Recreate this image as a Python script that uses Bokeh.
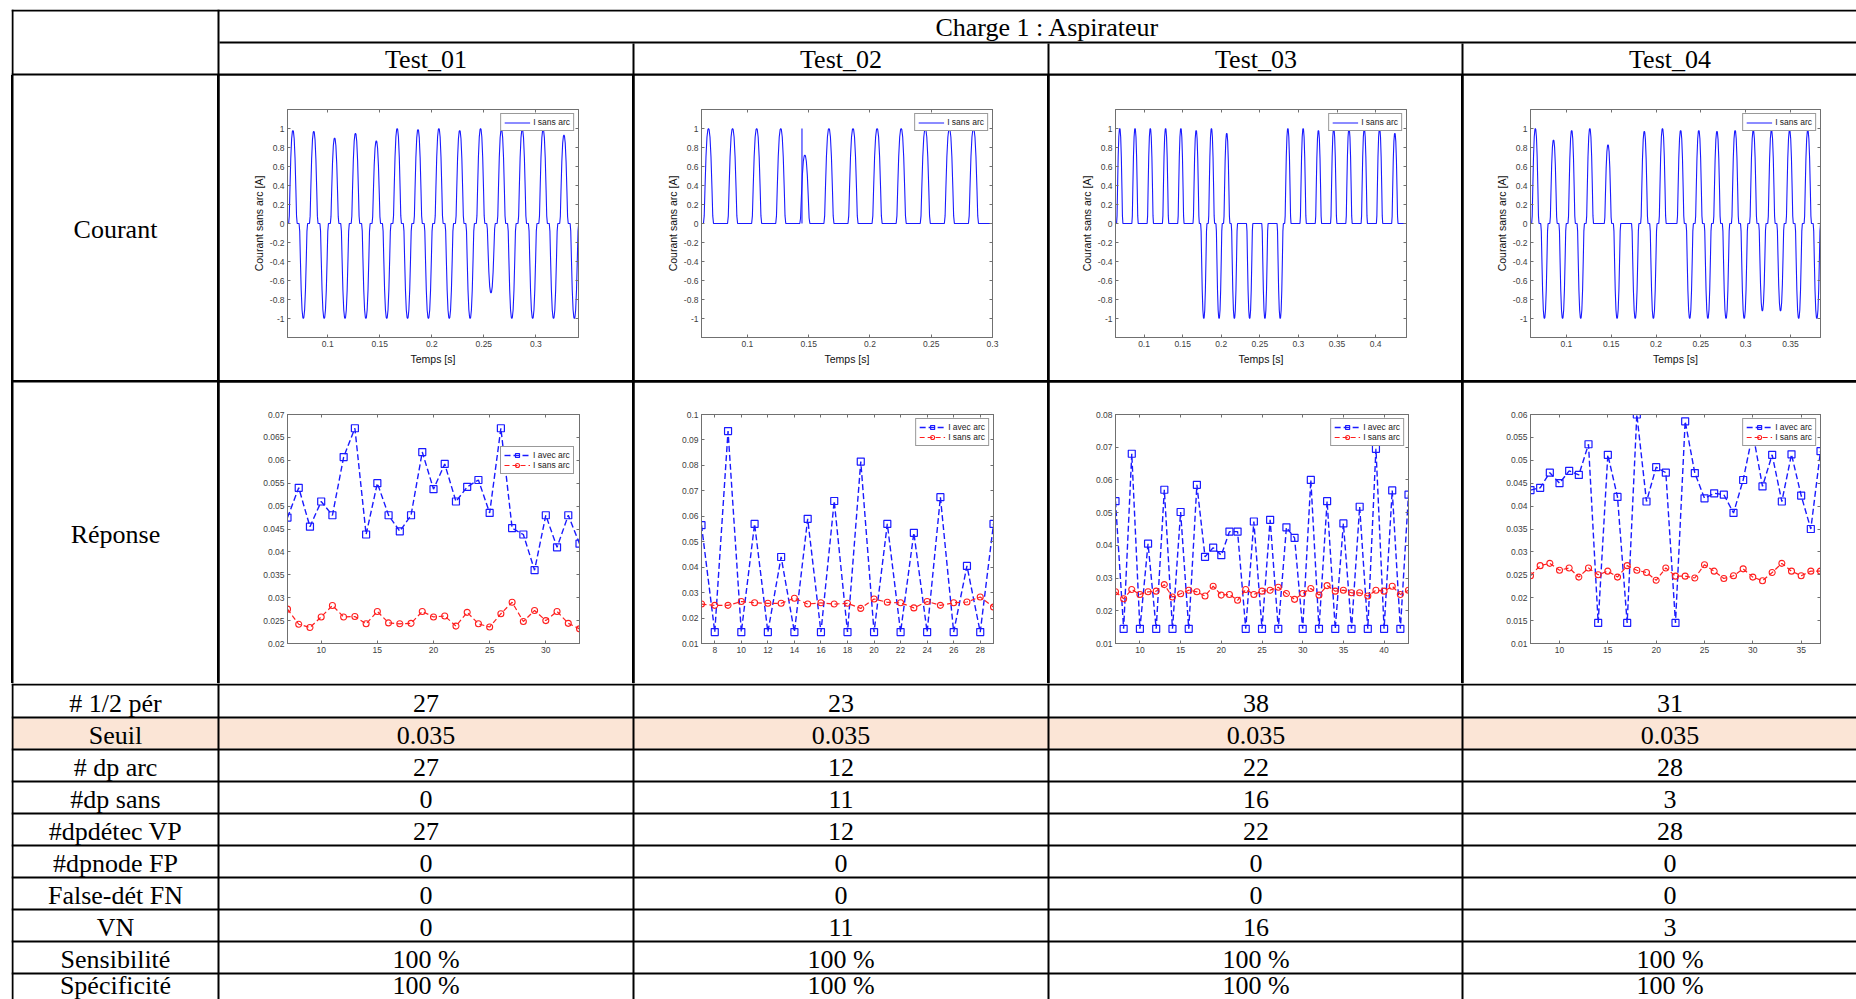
from bokeh.plotting import figure
from bokeh.layouts import row, column
from bokeh.models import (Range1d, LinearAxis, FixedTicker, CustomJSTickFormatter,
                          Legend, LegendItem, Spacer)
from bokeh.core.properties import value
from bokeh.embed import file_html
from bokeh.resources import INLINE

# ---------------------------------------------------------------- data
TITLE = "Charge 1 : Aspirateur"
TESTS = ["Test_01", "Test_02", "Test_03", "Test_04"]
ROW_LABELS = ["# 1/2 pér", "Seuil", "# dp arc", "#dp sans", "#dpdétec VP",
              "#dpnode FP", "False-dét FN", "VN", "Sensibilité", "Spécificité"]
VAL_T01 = ["27", "0.035", "27", "0", "27", "0", "0", "0", "100 %", "100 %"]
VAL_T02 = ["23", "0.035", "12", "11", "12", "0", "0", "11", "100 %", "100 %"]
VAL_T03 = ["38", "0.035", "22", "16", "22", "0", "0", "16", "100 %", "100 %"]
VAL_T04 = ["31", "0.035", "28", "3", "28", "0", "0", "3", "100 %", "100 %"]

# Current ("Courant") : peak value of each half period (0 = no pulse)
CUR_T01_FIRST, CUR_T01_STEP = 0.0665, 0.01002
CUR_T01_PEAKS = [0.98, -1.0, 0.97, -1.0, 0.90, -1.0, 0.95, -1.0, 0.87, -1.0, 1.0, -1.0,
                 0.99, -1.0, 1.0, -1.0, 0.98, -1.0, 1.0, -0.73, 0.99, -1.0, 0.99, -1.0,
                 0.99, -1.0, 0.93, -1.0]
CUR_T02_FIRST, CUR_T02_STEP = 0.0682, 0.00983
CUR_T02_PEAKS = [1.0, 0, 1.0, 0, 1.0, 0, 1.0, 0, 0.72, 0, 1.0, 0, 1.0, 0, 1.0, 0,
                 1.0, 0, 1.0, 0, 1.0, 0, 1.0, 0]
CUR_T02_SPIKE_T, CUR_T02_SPIKE_I = 0.1445, 1.0
CUR_T03_FIRST, CUR_T03_STEP = 0.0685, 0.0099
CUR_T03_PEAKS = [1.0, 0, 1.0, 0, 1.0, 0, 1.0, 0, 1.0, 0, 0.98, -1.0, 1.0, -1.0, 0.95, -1.0,
                 0, -1.0, 0, -1.0, 0, -1.0, 1.0, 0, 1.0, 0, 0.98, 0, 1.0, 0, 1.0, 0,
                 1.0, 0, 1.0, 0, 0.95, 0]
CUR_T04_FIRST, CUR_T04_STEP = 0.0654, 0.01013
CUR_T04_PEAKS = [1.0, -1.0, 0.88, -1.0, 0.98, -1.0, 1.0, 0, 0.83, -1.0, 0, -1.0,
                 0.97, -1.0, 1.0, 0, 0.98, -1.0, 0.98, -1.0, 0.97, -1.0, 0.98, -1.0,
                 0.98, -0.92, 0.98, -0.92, 0.98, -1.0, 0.98, -1.0]
CUR_XRANGES = [(0.0613, 0.341), (0.0625, 0.3), (0.063, 0.44), (0.06, 0.3835)]
CUR_YRANGE = (-1.2, 1.2)
CUR_YTICKS = [-1, -0.8, -0.6, -0.4, -0.2, 0, 0.2, 0.4, 0.6, 0.8, 1]
CUR_XTICKS = [[0.1, 0.15, 0.2, 0.25, 0.3],
              [0.1, 0.15, 0.2, 0.25, 0.3],
              [0.1, 0.15, 0.2, 0.25, 0.3, 0.35, 0.4],
              [0.1, 0.15, 0.2, 0.25, 0.3, 0.35]]

# Response ("Réponse")
REP_T01_X = list(range(7, 34))
REP_T01_ARC = [0.0475, 0.054, 0.0455, 0.051, 0.048, 0.0607, 0.067, 0.0438, 0.055, 0.048,
               0.0445, 0.048, 0.0618, 0.0537, 0.0592, 0.051, 0.0542, 0.0557, 0.0485, 0.067,
               0.0452, 0.0438, 0.036, 0.048, 0.041, 0.048, 0.0418]
REP_T01_SANS = [0.0275, 0.0242, 0.0235, 0.0258, 0.0283, 0.0258, 0.0259, 0.0243, 0.027, 0.0245,
                0.0243, 0.0244, 0.027, 0.0258, 0.026, 0.0238, 0.0268, 0.0243, 0.0236, 0.0265,
                0.029, 0.0248, 0.0272, 0.025, 0.027, 0.0244, 0.0232]
REP_T02_X = list(range(7, 30))
REP_T02_ARC = [0.0565, 0.0145, 0.0935, 0.0145, 0.057, 0.0145, 0.044, 0.0145, 0.059, 0.0145,
               0.066, 0.0145, 0.0815, 0.0145, 0.057, 0.0145, 0.0535, 0.0145, 0.0675, 0.0145,
               0.0405, 0.0145, 0.057]
REP_T02_SANS = [0.0255, 0.025, 0.025, 0.0265, 0.026, 0.0258, 0.0258, 0.0278, 0.0255, 0.026,
                0.0255, 0.0258, 0.0238, 0.0275, 0.0262, 0.026, 0.024, 0.0265, 0.025, 0.026,
                0.0263, 0.0283, 0.0243]
REP_T03_X = list(range(7, 44))
REP_T03_ARC = [0.0535, 0.0145, 0.068, 0.0145, 0.0405, 0.0145, 0.057, 0.0145, 0.0502, 0.0145,
               0.0585, 0.0365, 0.0393, 0.037, 0.0442, 0.0442, 0.0145, 0.0473, 0.0145, 0.0478,
               0.0145, 0.0455, 0.0423, 0.0145, 0.06, 0.0145, 0.0535, 0.0145, 0.0467, 0.0145,
               0.0518, 0.0145, 0.0695, 0.0145, 0.0568, 0.0145, 0.0555]
REP_T03_SANS = [0.0258, 0.0237, 0.0265, 0.025, 0.0258, 0.026, 0.028, 0.0242, 0.0252, 0.0263,
                0.0258, 0.0245, 0.0275, 0.0248, 0.025, 0.0232, 0.0265, 0.025, 0.026, 0.0263,
                0.0272, 0.0253, 0.0235, 0.0253, 0.0268, 0.0248, 0.0277, 0.026, 0.0263, 0.0255,
                0.0255, 0.0245, 0.0263, 0.026, 0.0275, 0.025, 0.0263]
REP_T04_X = list(range(7, 38))
REP_T04_ARC = [0.0435, 0.044, 0.0473, 0.045, 0.0477, 0.0468, 0.0535, 0.0145, 0.0512, 0.042,
               0.0145, 0.06, 0.041, 0.0485, 0.0473, 0.0145, 0.0585, 0.0472, 0.0417, 0.0428,
               0.0425, 0.0385, 0.0457, 0.056, 0.0443, 0.0512, 0.041, 0.0513, 0.0423, 0.035,
               0.052]
REP_T04_SANS = [0.0248, 0.027, 0.0275, 0.026, 0.0265, 0.0245, 0.0265, 0.025, 0.0258, 0.0245,
                0.027, 0.026, 0.0255, 0.0238, 0.0265, 0.0247, 0.0247, 0.0243, 0.0272, 0.0258,
                0.0242, 0.0248, 0.0263, 0.0245, 0.0237, 0.0255, 0.0275, 0.0258, 0.0248, 0.0258,
                0.0258]
REP_XRANGES = [(7, 33), (7, 29), (7, 43), (7, 37)]
REP_YRANGES = [(0.02, 0.07), (0.01, 0.1), (0.01, 0.08), (0.01, 0.06)]
REP_XTICKS = [[10, 15, 20, 25, 30],
              [8, 10, 12, 14, 16, 18, 20, 22, 24, 26, 28],
              [10, 15, 20, 25, 30, 35, 40],
              [10, 15, 20, 25, 30, 35]]
REP_YTICKS = [[0.02, 0.025, 0.03, 0.035, 0.04, 0.045, 0.05, 0.055, 0.06, 0.065, 0.07],
              [0.01, 0.02, 0.03, 0.04, 0.05, 0.06, 0.07, 0.08, 0.09, 0.1],
              [0.01, 0.02, 0.03, 0.04, 0.05, 0.06, 0.07, 0.08],
              [0.01, 0.015, 0.02, 0.025, 0.03, 0.035, 0.04, 0.045, 0.05, 0.055, 0.06]]

# ---------------------------------------------------------------- styles / layout
SERIF = "Liberation Serif"
SANS = "Liberation Sans"
BLUE = "#1a1aff"
RED = "#ff1f1f"
AXC = "#707070"
SEUIL_FILL = "#fbe5d6"
BASELINE_FIX = 8   # Bokeh draws the alphabetic baseline about 8px lower at 26px
LW = 2             # table rule thickness

# pulse outline used to draw each half period around its peak
PULSE_U = [-1.0, -0.85, -0.7, -0.5, -0.3, -0.12, 0.0, 0.12, 0.3, 0.5, 0.7, 0.85, 1.0]
PULSE_F = [0.0, 0.08, 0.36, 0.70, 0.91, 0.99, 1.0, 0.99, 0.91, 0.70, 0.36, 0.08, 0.0]
PULSE_HALF_WIDTH = 0.0041

COLW = [204, 413, 413, 412, 393]
CENTER = 206.5
H_HDR = 30
HDR_BASE = 24
H_CUR = 305
H_REP = 301
SMALL_H = [31, 30, 30, 30, 30, 30, 30, 30, 30, 25]
SMALL_BASE = [26, 25, 25, 25, 25, 25, 25, 25, 25, 19]
TITLE_X = 828      # centre of the title, measured from the left of Test_01 column

CHART_LEFT = [68, 67, 66, 67]
CUR_FW = [291, 291, 291, 290]
REP_FW = [292, 292, 293, 290]
CUR_TOP, CUR_FH = 34, 228
REP_TOP, REP_FH = 32, 229

FMT = CustomJSTickFormatter(code="return String(parseFloat(tick.toFixed(6)));")

TABLE_W = LW + sum(w + LW for w in COLW) - LW      # no right rule (cut at window edge)
COL_LEFT = []
_x = LW
for w in COLW:
    COL_LEFT.append(_x)
    _x += w + LW


def waveform(first, step, peaks, xr):
    xs, ys = [xr[0]], [0.0]
    for i, a in enumerate(peaks):
        if a == 0:
            continue
        tp = first + i * step
        for u, fr in zip(PULSE_U, PULSE_F):
            xs.append(tp + u * PULSE_HALF_WIDTH)
            ys.append(a * fr)
    xs.append(xr[1])
    ys.append(0.0)
    return xs, ys


def cell_fig(w, h, fill="white"):
    return figure(width=w, height=h, x_range=Range1d(0, w), y_range=Range1d(h, 0),
                  x_axis_type=None, y_axis_type=None, output_backend="svg",
                  toolbar_location=None, min_border=0, background_fill_color=fill,
                  border_fill_color=fill, outline_line_color=None, frame_align=False)


def add_texts(f, xs, ys, ss):
    f.text(x=xs, y=[y - BASELINE_FIX for y in ys], text=ss, text_font=value(SERIF),
           text_font_size=value("26px"), text_align="center",
           text_baseline="alphabetic", text_color="black")


def rules(f, boxes):
    f.quad(left=[b[0] for b in boxes], right=[b[1] for b in boxes],
           top=[b[2] for b in boxes], bottom=[b[3] for b in boxes],
           fill_color="black", line_color=None)


def chart_fig(w, h, left, top, fw, fh, xr, yr, xticks, yticks, xlabel=None, ylabel=None):
    f = figure(width=w, height=h, x_range=Range1d(*xr), y_range=Range1d(*yr),
               x_axis_type=None, y_axis_type=None, output_backend="svg",
               toolbar_location=None, frame_align=False,
               min_border_left=left, min_border_right=w - left - fw,
               min_border_top=top, min_border_bottom=h - top - fh,
               background_fill_color="white", border_fill_color="white",
               outline_line_color=AXC, outline_line_width=1)
    for place in ["below", "above", "left", "right"]:
        ticks = xticks if place in ("below", "above") else yticks
        ax = LinearAxis(ticker=FixedTicker(ticks=ticks), formatter=FMT,
                        major_tick_in=3, major_tick_out=0, minor_tick_line_color=None,
                        axis_line_color=AXC, major_tick_line_color=AXC,
                        major_label_text_font=SANS, major_label_text_font_size="8.5px",
                        major_label_text_color="#404040", major_label_standoff=3)
        if place in ("above", "right"):
            ax.major_label_text_color = None
            ax.major_label_standoff = 0
        if place == "below" and xlabel:
            ax.axis_label = xlabel
        if place == "left" and ylabel:
            ax.axis_label = ylabel
        ax.axis_label_text_font = SANS
        ax.axis_label_text_font_size = "10.5px"
        ax.axis_label_text_font_style = "normal"
        ax.axis_label_text_color = "#111111"
        ax.axis_label_standoff = 3 if place == "below" else 2
        f.add_layout(ax, place)
    return f


def legend(items, location, height):
    return Legend(items=items, location=location, margin=4, padding=3, spacing=0,
                  glyph_width=26, glyph_height=height, label_height=height, label_width=10,
                  label_standoff=3, label_text_font=SANS, label_text_font_size="8.5px",
                  label_text_color="#222222", border_line_color="#333333",
                  border_line_width=1, background_fill_color="white",
                  background_fill_alpha=1.0)


# ---------------------------------------------------------------- header block
hdr_h = LW + H_HDR + LW + H_HDR + LW
hdr = cell_fig(TABLE_W, hdr_h)
r1_top = LW
r2_top = LW + H_HDR + LW
hb = [(0, TABLE_W, 0, LW),                                  # top rule
      (COL_LEFT[1], TABLE_W, r2_top - LW, r2_top),          # under title
      (0, TABLE_W, hdr_h - LW, hdr_h),                      # under test names
      (0, LW, 0, hdr_h),                                    # left rule
      (COL_LEFT[1] - LW, COL_LEFT[1], 0, hdr_h)]            # after label column
for k in range(2, len(COLW)):
    hb.append((COL_LEFT[k] - LW, COL_LEFT[k], r2_top, hdr_h))
rules(hdr, hb)
add_texts(hdr, [COL_LEFT[1] + TITLE_X] + [COL_LEFT[k + 1] + CENTER for k in range(4)],
          [r1_top + HDR_BASE] + [r2_top + HDR_BASE] * 4, [TITLE] + TESTS)

# ---------------------------------------------------------------- Courant row
cur_first = [CUR_T01_FIRST, CUR_T02_FIRST, CUR_T03_FIRST, CUR_T04_FIRST]
cur_step = [CUR_T01_STEP, CUR_T02_STEP, CUR_T03_STEP, CUR_T04_STEP]
cur_peaks = [CUR_T01_PEAKS, CUR_T02_PEAKS, CUR_T03_PEAKS, CUR_T04_PEAKS]
lab = cell_fig(COLW[0], H_CUR)
add_texts(lab, [102], [162], ["Courant"])
cur_cells = [lab]
for k in range(4):
    f = chart_fig(COLW[k + 1], H_CUR, CHART_LEFT[k], CUR_TOP, CUR_FW[k], CUR_FH,
                  CUR_XRANGES[k], CUR_YRANGE, CUR_XTICKS[k], CUR_YTICKS,
                  xlabel="Temps [s]", ylabel="Courant sans arc [A]")
    xs, ys = waveform(cur_first[k], cur_step[k], cur_peaks[k], CUR_XRANGES[k])
    r = f.line(xs, ys, line_color=BLUE, line_width=1.1)
    if k == 1:
        f.segment(x0=[CUR_T02_SPIKE_T], y0=[0.0], x1=[CUR_T02_SPIKE_T],
                  y1=[CUR_T02_SPIKE_I], line_color=BLUE, line_width=1.1)
    f.add_layout(legend([LegendItem(label="I sans arc", renderers=[r])], "top_right", 9))
    cur_cells.append(f)
cur_row = row(*cur_cells, spacing=LW)

# ---------------------------------------------------------------- Réponse row
rep_x = [REP_T01_X, REP_T02_X, REP_T03_X, REP_T04_X]
rep_arc = [REP_T01_ARC, REP_T02_ARC, REP_T03_ARC, REP_T04_ARC]
rep_sans = [REP_T01_SANS, REP_T02_SANS, REP_T03_SANS, REP_T04_SANS]
lab = cell_fig(COLW[0], H_REP)
add_texts(lab, [102], [160], ["Réponse"])
rep_cells = [lab]
for k in range(4):
    f = chart_fig(COLW[k + 1], H_REP, CHART_LEFT[k], REP_TOP, REP_FW[k], REP_FH,
                  REP_XRANGES[k], REP_YRANGES[k], REP_XTICKS[k], REP_YTICKS[k])
    l1 = f.line(rep_x[k], rep_arc[k], line_color=BLUE, line_width=1.4, line_dash="6 3")
    m1 = f.scatter(rep_x[k], rep_arc[k], marker="square", size=7, line_color=BLUE,
                   fill_color=None, line_width=1.2)
    l2 = f.line(rep_x[k], rep_sans[k], line_color=RED, line_width=1.2, line_dash="5 3")
    m2 = f.scatter(rep_x[k], rep_sans[k], marker="circle", size=6, line_color=RED,
                   fill_color=None, line_width=1.1)
    loc = (213, 169) if k == 0 else "top_right"
    f.add_layout(legend([LegendItem(label="I avec arc", renderers=[l1, m1]),
                         LegendItem(label="I sans arc", renderers=[l2, m2])], loc, 10))
    rep_cells.append(f)
rep_row = row(*rep_cells, spacing=LW)

mid_h = H_CUR + LW + H_REP
mid = row(Spacer(width=LW, height=mid_h), column(cur_row, rep_row, spacing=LW),
          spacing=0, styles={"background-color": "black"})

# ---------------------------------------------------------------- value rows block
bot_h = LW + sum(SMALL_H) + LW * (len(SMALL_H) - 1)
bot = cell_fig(TABLE_W, bot_h)
row_tops = []
y = LW
for h in SMALL_H:
    row_tops.append(y)
    y += h + LW
seuil = ROW_LABELS.index("Seuil")
bot.quad(left=[0], right=[TABLE_W], top=[row_tops[seuil]],
         bottom=[row_tops[seuil] + SMALL_H[seuil]], fill_color=SEUIL_FILL, line_color=None)
bb = [(0, TABLE_W, 0, LW)]
for j in range(len(SMALL_H) - 1):
    yb = row_tops[j] + SMALL_H[j]
    bb.append((0, TABLE_W, yb, yb + LW))
bb.append((0, LW, 0, bot_h))
for k in range(1, len(COLW)):
    bb.append((COL_LEFT[k] - LW, COL_LEFT[k], 0, bot_h))
rules(bot, bb)
vals = [VAL_T01, VAL_T02, VAL_T03, VAL_T04]
tx, ty, ts = [], [], []
for j, label in enumerate(ROW_LABELS):
    base = row_tops[j] + SMALL_BASE[j]
    tx.append(COL_LEFT[0] + 102)
    ty.append(base)
    ts.append(label)
    for k in range(4):
        tx.append(COL_LEFT[k + 1] + CENTER)
        ty.append(base)
        ts.append(vals[k][j])
add_texts(bot, tx, ty, ts)

table = column(hdr, mid, bot, spacing=0)
root = row(Spacer(width=11, height=10), column(Spacer(width=10, height=9), table, spacing=0),
           spacing=0)

open("out.html", "w").write(file_html(root, INLINE, title="Charge 1 : Aspirateur"))
